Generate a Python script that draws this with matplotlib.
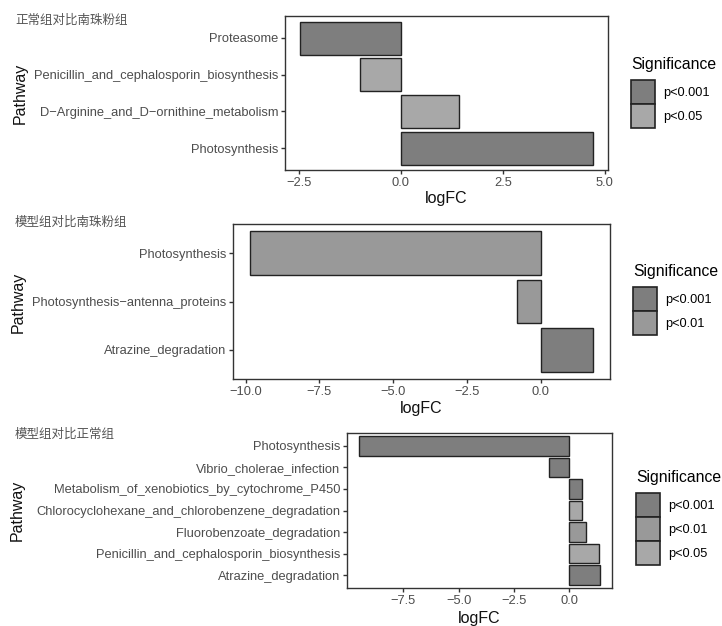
import matplotlib
matplotlib.use('Agg')
import matplotlib.pyplot as plt
from matplotlib.patches import Patch

plt.rcParams['font.family'] = ['Liberation Sans', 'Noto Sans CJK SC', 'DejaVu Sans']

# panel data (top to bottom as shown)
titles = ['正常组对比南珠粉组', '模型组对比南珠粉组', '模型组对比正常组']

p1_path = ['Proteasome', 'Penicillin_and_cephalosporin_biosynthesis',
           'D-Arginine_and_D-ornithine_metabolism', 'Photosynthesis']
p1_fc = [-2.48, -1.0, 1.43, 4.72]
p1_sig = ['p<0.001', 'p<0.05', 'p<0.05', 'p<0.001']

p2_path = ['Photosynthesis', 'Photosynthesis-antenna_proteins', 'Atrazine_degradation']
p2_fc = [-9.85, -0.81, 1.77]
p2_sig = ['p<0.01', 'p<0.01', 'p<0.001']

p3_path = ['Photosynthesis', 'Vibrio_cholerae_infection',
           'Metabolism_of_xenobiotics_by_cytochrome_P450',
           'Chlorocyclohexane_and_chlorobenzene_degradation',
           'Fluorobenzoate_degradation',
           'Penicillin_and_cephalosporin_biosynthesis', 'Atrazine_degradation']
p3_fc = [-9.5, -0.9, 0.59, 0.6, 0.75, 1.34, 1.39]
p3_sig = ['p<0.001', 'p<0.001', 'p<0.001', 'p<0.05', 'p<0.01', 'p<0.05', 'p<0.001']

p1_ticks = [-2.5, 0.0, 2.5, 5.0]
p2_ticks = [-10.0, -7.5, -5.0, -2.5, 0.0]
p3_ticks = [-7.5, -5.0, -2.5, 0.0]

sig_colors = {'p<0.001': '#7e7e7e', 'p<0.01': '#999999', 'p<0.05': '#a8a8a8'}

W, H = 722, 626
fig = plt.figure(figsize=(W / 100, H / 100), dpi=100)


def px_axes(x0, y0, x1, y1):
    return fig.add_axes([x0 / W, 1 - y1 / H, (x1 - x0) / W, (y1 - y0) / H])


def panel(box, paths, fc, sig, ticks, title, title_y, ylab_pos, xlab_y, leg_pos):
    ax = px_axes(*box)
    cols = [sig_colors[s] for s in sig]
    ax.barh(range(len(paths)), fc, height=0.9, color=cols,
            edgecolor='#222222', linewidth=1.0)
    lo = min(min(fc), 0)
    hi = max(max(fc), 0)
    pad = (hi - lo) * 0.05
    ax.set_xlim(lo - pad, hi + pad)
    ax.set_ylim(len(paths) - 0.4, -0.6)
    ax.set_yticks(range(len(paths)))
    ax.set_yticklabels([p.replace('-', '\u2212') for p in paths])
    ax.set_xticks(ticks)
    ax.set_xticklabels([f'{t:.1f}'.replace('-', '\u2212') for t in ticks])
    ax.tick_params(colors='#333333', labelcolor='#4d4d4d', labelsize=9.3,
                   length=3, width=1, pad=2)
    for s in ax.spines.values():
        s.set_color('#333333')
        s.set_linewidth(1.0)
    fig.text(15 / W, 1 - title_y / H, title, fontsize=9, color='#555555',
             va='center', ha='left', family=['Noto Sans CJK SC'])
    fig.text(ylab_pos[0] / W, 1 - ylab_pos[1] / H, 'Pathway', fontsize=11.5,
             rotation=90, ha='center', va='center', color='#111111')
    fig.text((box[0] + box[2]) / 2 / W, 1 - xlab_y / H, 'logFC', fontsize=11.5,
             ha='center', va='center', color='#111111')
    levels = [k for k in sig_colors if k in sig]
    handles = [Patch(facecolor=sig_colors[k], edgecolor='#222222', linewidth=1.2)
               for k in levels]
    leg = fig.legend(handles, levels, loc='upper left',
                     bbox_to_anchor=(leg_pos[0] / W, 1 - leg_pos[1] / H),
                     frameon=False, fontsize=9.2, title='Significance',
                     title_fontsize=11.3, handlelength=1.9, handleheight=2.5,
                     labelspacing=0.0, handletextpad=0.6, borderpad=0,
                     borderaxespad=0)
    leg._legend_box.align = 'left'
    leg._legend_box.sep = 6
    return ax


panel((285, 16, 608, 170), p1_path, p1_fc, p1_sig, p1_ticks, titles[0], 20,
      (20, 93), 199, (631, 57))
panel((233, 224, 610, 379), p2_path, p2_fc, p2_sig, p2_ticks, titles[1], 222,
      (18, 302), 408, (633, 264))
panel((347, 433, 612, 588), p3_path, p3_fc, p3_sig, p3_ticks, titles[2], 434,
      (17, 510), 619, (636, 470))

fig.savefig('out.png', dpi=100, facecolor='white')
